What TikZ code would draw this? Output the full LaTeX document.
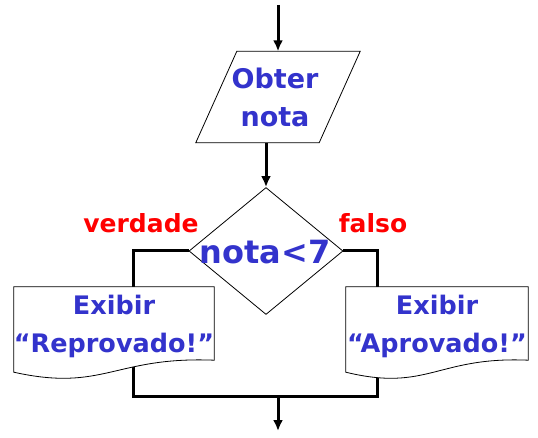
\documentclass[tikz,border=0pt]{standalone}
\usepackage{fontspec}
\setmainfont{DejaVu Sans}
\usetikzlibrary{shapes.geometric,arrows.meta,backgrounds}
\definecolor{txtblue}{HTML}{3333CC}
\begin{document}
\begin{tikzpicture}[x=1pt,y=-1pt,
  flow/.style={line width=3pt},
  arr/.style={flow,-{Latex[length=11pt,width=10pt]}},
  shapeline/.style={draw=black,line width=0.8pt,fill=white},
  bluetxt/.style={text=txtblue,font=\bfseries\fontsize{27}{38}\selectfont,align=center,inner sep=0pt},
  redtxt/.style={text=red,font=\bfseries\fontsize{25}{30}\selectfont,inner sep=0pt},
  box/.style={rectangle,inner sep=0pt}]
\useasboundingbox (0,0) rectangle (538,438);
\coordinate (start) at (278,5);
\node[box,minimum width=123pt,minimum height=91pt,bluetxt] (obt) at (275,97) {Obter\\nota};
\node[diamond,draw,line width=0.8pt,minimum width=154pt,minimum height=127pt,inner sep=0pt] (dec) at (266,251) {};
\node[bluetxt,font=\bfseries\fontsize{32}{38}\selectfont] (cond) at (265,252) {nota<7};
\node[box,minimum width=200pt,minimum height=73pt] (docL) at (114,323.5) {};
\node[box,minimum width=182pt,minimum height=73pt] (docR) at (437,323.5) {};
\node[bluetxt,font=\bfseries\fontsize{25.5}{38}\selectfont] (tL) at ([yshift=-3pt]docL.center) {Exibir\\“Reprovado!”};
\node[bluetxt,font=\bfseries\fontsize{25.5}{38}\selectfont] (tR) at ([yshift=-3pt]docR.center) {Exibir\\“Aprovado!”};
\node[redtxt,anchor=base] (lt) at (141,233) {verdade};
\node[redtxt,anchor=base] (lf) at (373,233) {falso};
\coordinate (jl) at (133,396);
\coordinate (jr) at (377,396);
\coordinate (jm) at (278,396);
\coordinate (end) at (278,431);
\begin{pgfonlayer}{background}
\draw[arr] (start) -- (obt.north -| start);
\draw[arr] (obt.south -| dec.north) -- (dec.north);
\draw[flow] (dec.west) -| (docL.north -| jl);
\draw[flow] (dec.east) -| (docR.north -| jr);
\draw[flow] (docL.south -| jl) -- (jl) -- (jr) -- (docR.south -| jr);
\draw[arr] (jm) -- (end);
\draw[shapeline] ([xshift=23.5pt]obt.north west) -- ([xshift=23.5pt]obt.north east) -- ([xshift=-17.5pt]obt.south east) -- ([xshift=-17.5pt]obt.south west) -- cycle;
\draw[shapeline] (docL.north west) -- (docL.north east) -- (docL.south east) .. controls +(-100,-4) and +(90,20) .. ([yshift=-12pt]docL.south west) -- cycle;
\draw[shapeline] (docR.north west) -- (docR.north east) -- (docR.south east) .. controls +(-91,-4) and +(82,20) .. ([yshift=-12pt]docR.south west) -- cycle;
\end{pgfonlayer}
\end{tikzpicture}
\end{document}
